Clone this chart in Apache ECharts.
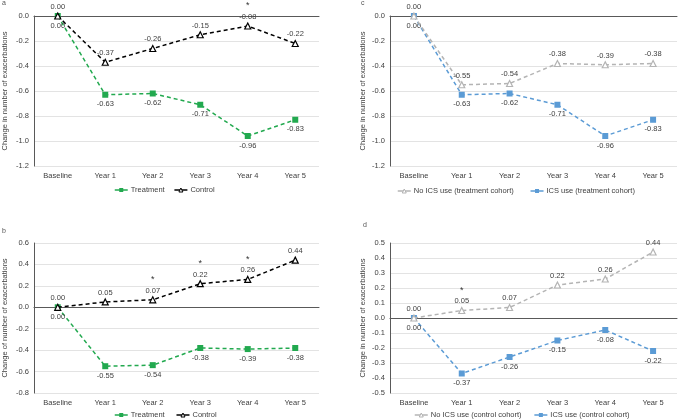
<!DOCTYPE html>
<html><head><meta charset="utf-8">
<script src="https://cdn.jsdelivr.net/npm/echarts@6/dist/echarts.min.js"></script>
<style>html,body{margin:0;padding:0;background:#fff}#c{width:678px;height:420px}</style>
</head><body><div id="c"></div>
<script>
var categories = ['Baseline','Year 1','Year 2','Year 3','Year 4','Year 5'];
var aTreatment = [0,-0.63,-0.62,-0.71,-0.96,-0.83];
var aControl = [0,-0.37,-0.26,-0.15,-0.08,-0.22];
var aStars = [0,0,0,0,1,0];
var bTreatment = [0,-0.55,-0.54,-0.38,-0.39,-0.38];
var bControl = [0,0.05,0.07,0.22,0.26,0.44];
var bStars = [0,0,1,1,1,0];
var cNoICS = [0,-0.55,-0.54,-0.38,-0.39,-0.38];
var cICS = [0,-0.63,-0.62,-0.71,-0.96,-0.83];
var dNoICS = [0,0.05,0.07,0.22,0.26,0.44];
var dICS = [0,-0.37,-0.26,-0.15,-0.08,-0.22];
var dStars = [0,1,0,0,0,0];
var yRanges = [[-1.2,0,0.2],[-0.8,0.6,0.2],[-1.2,0,0.2],[-0.5,0.5,0.1]];
var yNames = ['Change in number of exacerbations','Change of number of exacerbations','Change in number of exacerbations','Change in number of exacerbations'];

var FONT = 'Liberation Sans, Arial, sans-serif';
var FS = 7.5;
var TXT = '#404040';
var GREEN = '#22A94F', BLUE = '#5B9BD5', GREY = '#B4B4B4';

var grids = [
  {left:31, top:16, width:288, height:150},
  {left:31, top:243, width:288, height:150},
  {left:390, top:16, width:287, height:150},
  {left:390, top:243, width:287, height:150}
];
var xAxes = grids.map(function(g,i){return {
  type:'category', gridIndex:i, data:categories, boundaryGap:true,
  axisLine:{lineStyle:{color:'#595959',width:1}}, axisTick:{show:false},
  axisLabel:{fontSize:FS, color:TXT, fontFamily:FONT, margin:6}
};});
var yAxes = grids.map(function(g,i){var r=yRanges[i];return {
  type:'value', gridIndex:i, min:r[0], max:r[1], interval:r[2],
  name:yNames[i], nameLocation:'middle', nameGap:i<2?25:23,
  nameTextStyle:{fontSize:FS, color:TXT, fontFamily:FONT},
  axisLine:{show:true, lineStyle:{color:'#595959',width:1}}, axisTick:{show:false},
  splitLine:{lineStyle:{color:'#E3E3E3',width:1}},
  axisLabel:{fontSize:FS, color:TXT, fontFamily:FONT, margin:5, formatter:function(v){return v.toFixed(1);}}
};});

function lbl(pos, stars){
  return {show:true, position:pos, distance:pos==='top'?1:2, fontSize:FS, color:TXT, fontFamily:FONT, lineHeight:9,
    rich:{s:{fontSize:9, lineHeight:13, color:'#333', fontFamily:FONT}},
    formatter:function(p){return (stars && stars[p.dataIndex] ? '{s|*}\n' : '') + Number(p.value).toFixed(2);}};
}
function squareSeries(name, data, idx, color, pos, stars){
  return {name:name, type:'line', xAxisIndex:idx, yAxisIndex:idx, data:data,
    symbol:'rect', symbolSize:6, color:color,
    lineStyle:{color:color, width:1.5, type:[4,3]},
    itemStyle:{color:color}, label:lbl(pos, stars), z:2};
}
function triSeries(name, data, idx, color, pos, stars){
  return {name:name, type:'line', xAxisIndex:idx, yAxisIndex:idx, data:data,
    symbol:'triangle', symbolSize:6, showAllSymbol:true, color:color,
    lineStyle:{color:color, width:1.5, type:[4,3]},
    itemStyle:{color:'#fff', borderColor:color, borderWidth:1.2}, label:lbl(pos, stars), z:3};
}

var series = [
  squareSeries('Treatment', aTreatment, 0, GREEN, 'bottom'),
  triSeries('Control', aControl, 0, '#000', 'top', aStars),
  squareSeries('Treatment ', bTreatment, 1, GREEN, 'bottom'),
  triSeries('Control ', bControl, 1, '#000', 'top', bStars),
  triSeries('No ICS use (treatment cohort)', cNoICS, 2, GREY, 'top'),
  squareSeries('ICS use (treatment cohort)', cICS, 2, BLUE, 'bottom'),
  triSeries('No ICS use (control cohort)', dNoICS, 3, GREY, 'top', dStars),
  squareSeries('ICS use (control cohort)', dICS, 3, BLUE, 'bottom')
];

function tri(name, color){ return {name:name, itemStyle:{color:'#fff', borderColor:color, borderWidth:1}}; }
function legend(items, left, top, gap){
  return {data:items, left:left, top:top, itemWidth:13, itemHeight:5, itemGap:gap,
    lineStyle:{type:'solid', width:1.5},
    textStyle:{fontSize:FS, color:TXT, fontFamily:FONT, padding:[0,0,0,-2]}, padding:0};
}

var chart = echarts.init(document.getElementById('c'), null, {renderer:'canvas'});
chart.setOption({
  animation:false,
  backgroundColor:'#fff',
  grid:grids, xAxis:xAxes, yAxis:yAxes, series:series,
  legend:[
    legend(['Treatment', tri('Control','#000')], 114, 186, 9),
    legend(['Treatment ', tri('Control ','#000')], 114, 411, 9),
    legend([tri('No ICS use (treatment cohort)', GREY), 'ICS use (treatment cohort)'], 397, 187, 16),
    legend([tri('No ICS use (control cohort)', GREY), 'ICS use (control cohort)'], 414, 411, 12)
  ],
  graphic:[
    {type:'text', left:2, top:0, style:{text:'a', fontSize:7, fill:'#555', fontFamily:FONT}},
    {type:'text', left:2, top:228, style:{text:'b', fontSize:7, fill:'#555', fontFamily:FONT}},
    {type:'text', left:361, top:0, style:{text:'c', fontSize:7, fill:'#555', fontFamily:FONT}},
    {type:'text', left:363, top:222, style:{text:'d', fontSize:7, fill:'#555', fontFamily:FONT}}
  ]
});
</script></body></html>
